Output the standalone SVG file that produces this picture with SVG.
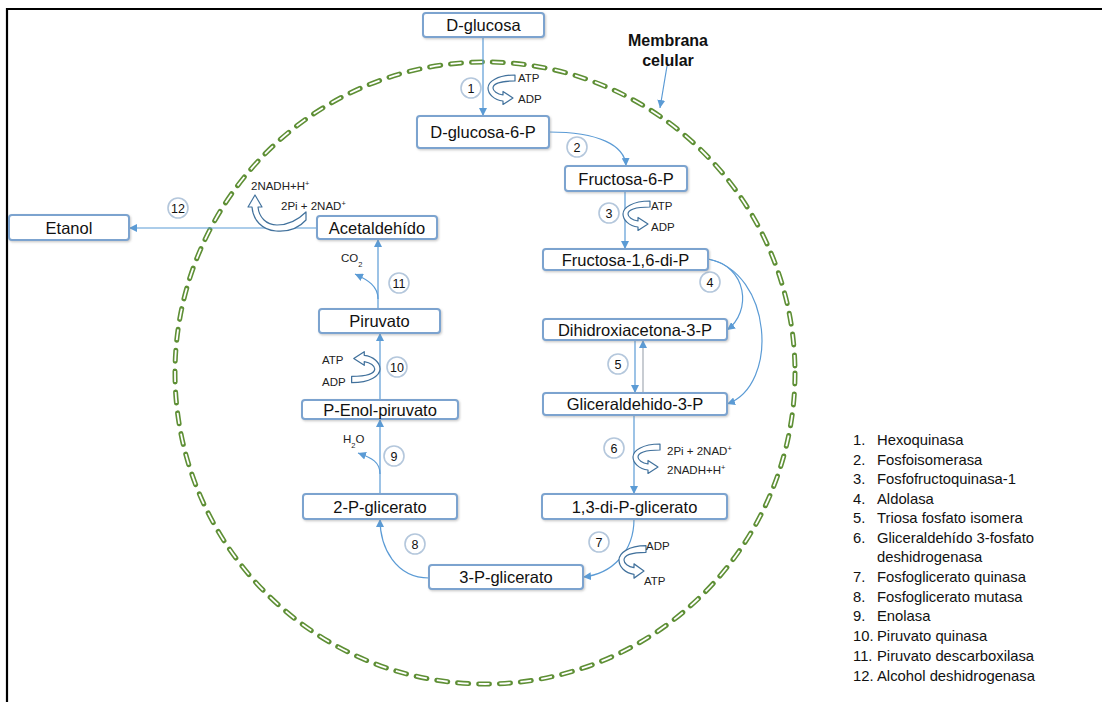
<svg xmlns="http://www.w3.org/2000/svg" width="1102" height="702" viewBox="0 0 1102 702">
  <style>
    .box { fill: #ffffff; stroke: #7ba3cf; stroke-width: 2; filter: url(#sh); }
    .lbl { font-family: "Liberation Sans", Arial, sans-serif; font-size: 16.5px; fill: #111; text-anchor: middle; }
    .edge { fill: none; stroke: #5b9bd5; stroke-width: 1.2; marker-end: url(#ah); }
    .num circle { fill: #ffffff; stroke: #b4c7dc; stroke-width: 1.6; }
    .num text { font-family: "Liberation Sans", Arial, sans-serif; font-size: 12.5px; fill: #111; text-anchor: middle; }
    .sm { font-family: "Liberation Sans", Arial, sans-serif; font-size: 11.5px; fill: #222; }
    .hollow { fill: #ffffff; stroke: #41719c; stroke-width: 1.2; stroke-linejoin: round; }
    .leg { font-family: "Liberation Sans", Arial, sans-serif; font-size: 14.8px; fill: #111; }
    .mem { font-family: "Liberation Sans", Arial, sans-serif; font-size: 16px; font-weight: bold; fill: #111; text-anchor: middle; }
  </style>
  <defs>
    <marker id="ah" viewBox="0 0 10 10" refX="10" refY="5" markerWidth="8" markerHeight="8" markerUnits="userSpaceOnUse" orient="auto">
      <path d="M0,0 L10,5 L0,10 z" fill="#5b9bd5"/>
    </marker>
    <filter id="sh" x="-10%" y="-30%" width="120%" height="160%">
      <feDropShadow dx="1" dy="1.2" stdDeviation="0.8" flood-color="#888" flood-opacity="0.45"/>
    </filter>
    <!-- hollow U-turn arrow, opening right, head on the lower arm -->
    <path id="uturn" d="M27 -13 C9 -13 0 -6 0 0 C0 6 6 12 15 13 L15 16.5 L25 10 L15 3.5 L15 7 C9 6 5 3 5 0 C5 -4 12 -7 27 -7 Z"/>
  </defs>

  <!-- frame -->
  <path d="M7 702 V9 H1102" fill="none" stroke="#000" stroke-width="2.2"/>

  <!-- cell membrane -->
  <g id="membrane">
    <ellipse cx="485" cy="373" rx="310" ry="311" fill="none" stroke="#5e8f35" stroke-width="5" stroke-dasharray="11 10" stroke-linecap="round"/>
    <ellipse cx="485" cy="373" rx="310" ry="311" fill="none" stroke="#ffffff" stroke-width="1.8" stroke-dasharray="11 10"/>
  </g>
  <g id="membrane-label">
    <text class="mem" x="668" y="46">Membrana</text>
    <text class="mem" x="668" y="66">celular</text>
  </g>

  <!-- connectors -->
  <g id="connectors">
    <path class="edge" d="M483 37 V116"/>
    <path class="edge" d="M549 132 C598 132 625 145 626 166"/>
    <path class="edge" d="M625 191 V249"/>
    <path class="edge" d="M708 259 C748 266 752 312 727 330"/>
    <path class="edge" d="M708 259 C772 272 780 385 727 404"/>
    <path class="edge" d="M635 340 V393"/>
    <path class="edge" d="M643 393 V340" style="stroke:#a3abb5"/>
    <path class="edge" d="M634 415 V494"/>
    <path class="edge" d="M634 519 C634 552 612 574 583 577"/>
    <path class="edge" d="M429 578 C396 578 380 548 380 519"/>
    <path class="edge" d="M380 494 V419"/>
    <path class="edge" d="M380 474 C380 462 372 458 358 453"/>
    <path class="edge" d="M380 400 V333"/>
    <path class="edge" d="M378 309 V239"/>
    <path class="edge" d="M378 299 C378 286 368 280 355 274"/>
    <path class="edge" d="M317 228 H129"/>
    <path class="edge" d="M667 66 L660 108"/>
  </g>

  <!-- cofactor arrows -->
  <g id="cofactors">
    <use href="#uturn" class="hollow" transform="translate(488,88)"/>
    <text class="sm" x="518" y="82">ATP</text>
    <text class="sm" x="518" y="103">ADP</text>

    <use href="#uturn" class="hollow" transform="translate(623,214)"/>
    <text class="sm" x="651" y="210">ATP</text>
    <text class="sm" x="651" y="231">ADP</text>

    <use href="#uturn" class="hollow" transform="translate(633,457)"/>
    <text class="sm" x="667" y="455">2Pi + 2NAD<tspan font-size="7.5" baseline-shift="super">+</tspan></text>
    <text class="sm" x="667" y="474">2NADH+H<tspan font-size="7.5" baseline-shift="super">+</tspan></text>

    <use href="#uturn" class="hollow" transform="translate(619,560) scale(1,1.1)"/>
    <text class="sm" x="646" y="550">ADP</text>
    <text class="sm" x="644" y="585">ATP</text>

    <use href="#uturn" class="hollow" transform="translate(380,369) scale(-1.05,-1.05)"/>
    <text class="sm" x="322" y="364">ATP</text>
    <text class="sm" x="322" y="386">ADP</text>

    <path class="hollow" d="M306 212 L306 220 C298 229 288 232 276 231 C262 230 253 220 252 207 L248 207 L255 195 L262 207 L258 207 C259 217 266 225 277 225 C288 225 298 220 306 212 Z"/>
    <text class="sm" x="251" y="190">2NADH+H<tspan font-size="7.5" baseline-shift="super">+</tspan></text>
    <text class="sm" x="281" y="210">2Pi + 2NAD<tspan font-size="7.5" baseline-shift="super">+</tspan></text>

    <text class="sm" x="341" y="262">CO<tspan font-size="7.5" baseline-shift="sub">2</tspan></text>
    <text class="sm" x="343" y="443">H<tspan font-size="7.5" baseline-shift="sub">2</tspan>O</text>
  </g>

  <!-- enzyme step numbers -->
  <g class="num">
    <g id="n1"><circle cx="471" cy="88" r="10"/><text x="471" y="92.5">1</text></g>
    <g id="n2"><circle cx="577" cy="147" r="10"/><text x="577" y="151.5">2</text></g>
    <g id="n3"><circle cx="609" cy="213" r="10"/><text x="609" y="217.5">3</text></g>
    <g id="n4"><circle cx="710" cy="282" r="10"/><text x="710" y="286.5">4</text></g>
    <g id="n5"><circle cx="618" cy="364" r="10"/><text x="618" y="368.5">5</text></g>
    <g id="n6"><circle cx="614" cy="448" r="10"/><text x="614" y="452.5">6</text></g>
    <g id="n7"><circle cx="599" cy="542" r="10"/><text x="599" y="546.5">7</text></g>
    <g id="n8"><circle cx="415" cy="544" r="10"/><text x="415" y="548.5">8</text></g>
    <g id="n9"><circle cx="394" cy="456" r="10"/><text x="394" y="460.5">9</text></g>
    <g id="n10"><circle cx="397" cy="367" r="10"/><text x="397" y="371.5">10</text></g>
    <g id="n11"><circle cx="399" cy="283" r="10"/><text x="399" y="287.5">11</text></g>
    <g id="n12"><circle cx="178" cy="208" r="10"/><text x="178" y="212.5">12</text></g>
  </g>

  <!-- metabolites -->
  <g id="d-glucosa"><rect class="box" x="423" y="13" width="121" height="24" rx="3"/><text class="lbl" x="483.5" y="31">D-glucosa</text></g>
  <g id="d-glucosa-6-p"><rect class="box" x="417" y="116" width="132" height="32" rx="3"/><text class="lbl" x="483" y="138">D-glucosa-6-P</text></g>
  <g id="fructosa-6-p"><rect class="box" x="565" y="166" width="122" height="25" rx="3"/><text class="lbl" x="626" y="184.5">Fructosa-6-P</text></g>
  <g id="fructosa-16-di-p"><rect class="box" x="543" y="249" width="165" height="21" rx="3"/><text class="lbl" x="625.5" y="265.5">Fructosa-1,6-di-P</text></g>
  <g id="dihidroxiacetona-3-p"><rect class="box" x="543" y="319" width="184" height="21" rx="3"/><text class="lbl" x="635" y="335.5">Dihidroxiacetona-3-P</text></g>
  <g id="gliceraldehido-3-p"><rect class="box" x="543" y="393" width="184" height="22" rx="3"/><text class="lbl" x="635" y="410">Gliceraldehido-3-P</text></g>
  <g id="di-p-glicerato"><rect class="box" x="542" y="494" width="185" height="25" rx="3"/><text class="lbl" x="634.5" y="512.5">1,3-di-P-glicerato</text></g>
  <g id="p3-glicerato"><rect class="box" x="429" y="565" width="154" height="24" rx="3"/><text class="lbl" x="506" y="583">3-P-glicerato</text></g>
  <g id="p2-glicerato"><rect class="box" x="303" y="494" width="154" height="25" rx="3"/><text class="lbl" x="380" y="512.5">2-P-glicerato</text></g>
  <g id="p-enol-piruvato"><rect class="box" x="302" y="400" width="156" height="19" rx="3"/><text class="lbl" x="380" y="415.5">P-Enol-piruvato</text></g>
  <g id="piruvato"><rect class="box" x="319" y="309" width="121" height="24" rx="3"/><text class="lbl" x="379.5" y="327">Piruvato</text></g>
  <g id="acetaldehido"><rect class="box" x="317" y="216" width="120" height="23" rx="3"/><text class="lbl" x="377" y="233.5">Acetaldehído</text></g>
  <g id="etanol"><rect class="box" x="9" y="215" width="120" height="25" rx="3"/><text class="lbl" x="69" y="233.5">Etanol</text></g>

  <!-- enzyme legend -->
  <g id="legend" class="leg">
    <text x="853" y="445">1.</text><text x="877" y="445">Hexoquinasa</text>
    <text x="853" y="465">2.</text><text x="877" y="465">Fosfoisomerasa</text>
    <text x="853" y="484">3.</text><text x="877" y="484">Fosfofructoquinasa-1</text>
    <text x="853" y="504">4.</text><text x="877" y="504">Aldolasa</text>
    <text x="853" y="523">5.</text><text x="877" y="523">Triosa fosfato isomera</text>
    <text x="853" y="543">6.</text><text x="877" y="543">Gliceraldehído 3-fosfato</text>
    <text x="877" y="562">deshidrogenasa</text>
    <text x="853" y="582">7.</text><text x="877" y="582">Fosfoglicerato quinasa</text>
    <text x="853" y="602">8.</text><text x="877" y="602">Fosfoglicerato mutasa</text>
    <text x="853" y="621">9.</text><text x="877" y="621">Enolasa</text>
    <text x="853" y="641">10.</text><text x="877" y="641">Piruvato quinasa</text>
    <text x="853" y="661">11.</text><text x="877" y="661">Piruvato descarboxilasa</text>
    <text x="853" y="681">12.</text><text x="877" y="681">Alcohol deshidrogenasa</text>
  </g>
</svg>
